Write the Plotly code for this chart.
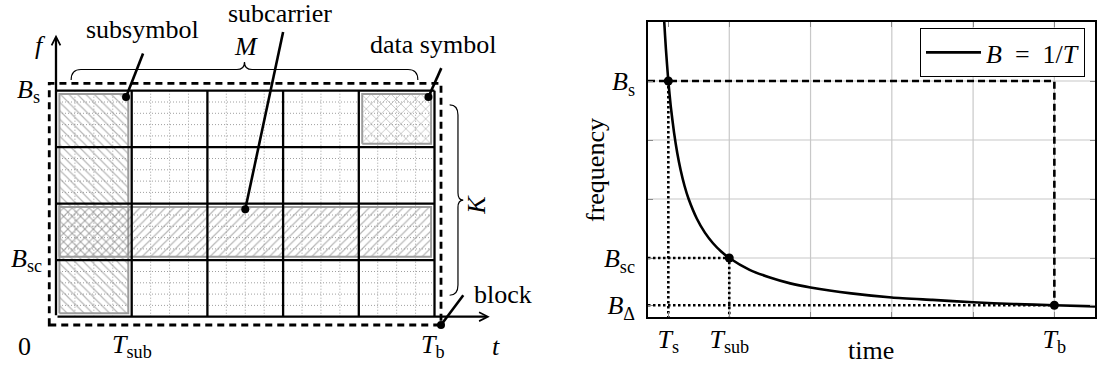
import plotly.graph_objects as go

# ---------------- data ----------------
M = 5                # subsymbols per block
K = 4                # subcarriers per block
T_S = 0.25           # symbol duration
T_SUB = 1.0          # subsymbol duration
T_B = 5.0            # block duration
B_S = 4.0            # symbol bandwidth
B_SC = 1.0           # subcarrier bandwidth
B_DELTA = 0.2        # block frequency resolution

SUBSYMBOL_COL = 0          # highlighted subsymbol (column)
SUBCARRIER_ROW = 1         # highlighted subcarrier (row, counted from bottom)
DATA_SYMBOL_CELL = (4, 3)  # (column, row)

# B = 1/T curve
CURVE_T = [0.18, 0.2, 0.22, 0.25, 0.28, 0.32, 0.36, 0.4, 0.45, 0.5, 0.6, 0.7, 0.8, 0.9, 1.0,
           1.25, 1.5, 1.75, 2.0, 2.5, 3.0, 3.5, 4.0, 4.5, 5.0, 5.5]
CURVE_B = [5.56, 5.0, 4.55, 4.0, 3.57, 3.13, 2.78, 2.5, 2.22, 2.0, 1.67, 1.43, 1.25, 1.11, 1.0,
           0.8, 0.67, 0.57, 0.5, 0.4, 0.33, 0.29, 0.25, 0.22, 0.2, 0.18]

X_TICK_VALS = [T_S, T_SUB, T_B]
X_TICK_TEXT = ["<i>T</i><sub>s</sub>", "<i>T</i><sub>sub</sub>", "<i>T</i><sub>b</sub>"]
Y_TICK_VALS = [B_DELTA, B_SC, B_S]
Y_TICK_TEXT = ["<i>B</i><sub>Δ</sub>", "<i>B</i><sub>sc</sub>", "<i>B</i><sub>s</sub>"]
GRID_T = [1, 2, 3, 4, 5]
GRID_B = [1, 2, 3, 4]

# ---------------- style / layout ----------------
FONT = "Liberation Serif, Times New Roman, serif"
FS = 26
W, H = 1097, 369
LX0, LXS = 56.0, 75.7      # left panel: pixel of t=0, pixels per unit
LY0, LYS = 316.7, 56.5     # left panel: pixel of f=0, pixels per unit
LEFT_W = 548.5
HATCH_FG = "#707070"
BORDER_GRAY = "#9c9c9c"
INX, INY = 0.045, 0.06

fig = go.Figure()


def rect(x0, x1, y0, y1):
    return [x0, x1, x1, x0, x0], [y0, y0, y1, y1, y0]


def hatch(x0, x1, y0, y1, shape, size=6.0):
    xs, ys = rect(x0 + INX, x1 - INX, y0 + INY, y1 - INY)
    fig.add_trace(go.Scatter(
        x=xs, y=ys, mode="lines", fill="toself", fillcolor="rgba(0,0,0,0)",
        fillpattern=dict(shape=shape, fgcolor=HATCH_FG, bgcolor="rgba(0,0,0,0)",
                         size=size, solidity=0.2),
        line=dict(color=BORDER_GRAY, width=2), hoverinfo="skip",
        showlegend=False, xaxis="x", yaxis="y"))


# ---- left panel: hatched regions ----
hatch(SUBSYMBOL_COL * T_SUB, (SUBSYMBOL_COL + 1) * T_SUB, 0, K * B_SC, "\\")
hatch(0, M * T_SUB, SUBCARRIER_ROW * B_SC, (SUBCARRIER_ROW + 1) * B_SC, "/")
dc, dr = DATA_SYMBOL_CELL
hatch(dc * T_SUB, (dc + 1) * T_SUB, dr * B_SC, (dr + 1) * B_SC, "x", size=7)

# dotted sub-grid
n_sub_t = int(round(T_SUB / T_S))
n_sub_b = int(round(B_SC / B_DELTA))
sx, sy = [], []
for k in range(1, M * n_sub_t):
    if k % n_sub_t:
        sx += [k * T_S, k * T_S, None]
        sy += [0, K * B_SC, None]
for j in range(1, K * n_sub_b):
    if j % n_sub_b:
        sx += [0, M * T_SUB, None]
        sy += [j * B_DELTA, j * B_DELTA, None]
fig.add_trace(go.Scatter(x=sx, y=sy, mode="lines",
                         line=dict(color="#a0a0a0", width=1, dash="1px,2px"),
                         hoverinfo="skip", showlegend=False, xaxis="x", yaxis="y"))

# solid grid
gx, gy = [], []
for c in range(1, M + 1):
    gx += [c * T_SUB, c * T_SUB, None]
    gy += [0, K * B_SC, None]
for r in range(1, K + 1):
    gx += [0, M * T_SUB, None]
    gy += [r * B_SC, r * B_SC, None]
fig.add_trace(go.Scatter(x=gx, y=gy, mode="lines", line=dict(color="black", width=2.3),
                         hoverinfo="skip", showlegend=False, xaxis="x", yaxis="y"))

shapes = []
annotations = []

# dashed block rectangle
shapes.append(dict(type="rect", xref="x", yref="y", x0=-0.089, x1=M * T_SUB + 0.086,
                   y0=-0.147, y1=K * B_SC + 0.13,
                   line=dict(color="black", width=2.8, dash="7px,5px")))


def hbrace(x0, x1, y_tip, y_body, y_cusp, rx, rcx):
    xm = (x0 + x1) / 2
    return (f"M {x0},{y_tip} Q {x0},{y_body} {x0 + rx},{y_body} L {xm - rcx},{y_body} "
            f"Q {xm},{y_body} {xm},{y_cusp} Q {xm},{y_body} {xm + rcx},{y_body} "
            f"L {x1 - rx},{y_body} Q {x1},{y_body} {x1},{y_tip}")


def vbrace(y0, y1, x_tip, x_body, x_cusp, ry, rcy):
    ym = (y0 + y1) / 2
    return (f"M {x_tip},{y1} Q {x_body},{y1} {x_body},{y1 - ry} L {x_body},{ym + rcy} "
            f"Q {x_body},{ym} {x_cusp},{ym} Q {x_body},{ym} {x_body},{ym - rcy} "
            f"L {x_body},{y0 + ry} Q {x_body},{y0} {x_tip},{y0}")


shapes.append(dict(type="path", xref="x", yref="y",
                   path=hbrace(0.2, M * T_SUB - 0.22, 4.19, 4.375, 4.51, 0.13, 0.1),
                   line=dict(color="black", width=1.2)))
shapes.append(dict(type="path", xref="x", yref="y",
                   path=vbrace(0.38, 3.75, 5.2, 5.31, 5.38, 0.18, 0.13),
                   line=dict(color="black", width=1.2)))

# axes arrows (left panel)
for (hx, hy) in [(0, 4.99), (5.73, 0)]:
    annotations.append(dict(x=hx, y=hy, ax=0, ay=0, xref="x", yref="y", axref="x", ayref="y",
                            showarrow=True, arrowhead=5, arrowsize=0.75, arrowwidth=2.3,
                            arrowcolor="black", text=""))

# pointer lines and dots
POINTERS = [
    ((SUBSYMBOL_COL + 1) * T_SUB - 0.075, K * B_SC - 0.11, 1.15, 4.66),
    (2.5 * T_SUB, (SUBCARRIER_ROW + 1) * B_SC - 0.1, 3.0, 5.04),
    ((dc + 1) * T_SUB - 0.08, (dr + 1) * B_SC - 0.11, 5.09, 4.40),
    (M * T_SUB + 0.086, -0.147, 5.38, 0.38),
]
px_, py_ = [], []
for (dx, dy, ex, ey) in POINTERS:
    px_ += [dx, ex, None]
    py_ += [dy, ey, None]
fig.add_trace(go.Scatter(x=px_, y=py_, mode="lines", line=dict(color="black", width=2.6),
                         hoverinfo="skip", showlegend=False, xaxis="x", yaxis="y"))
fig.add_trace(go.Scatter(x=[p[0] for p in POINTERS], y=[p[1] for p in POINTERS], mode="markers",
                         marker=dict(color="black", size=8), hoverinfo="skip",
                         showlegend=False, xaxis="x", yaxis="y", cliponaxis=False))

tfont = dict(family=FONT, size=FS, color="black")


def ltext(x, y, s, xanchor="center", angle=0):
    annotations.append(dict(x=x, y=y, xref="x", yref="y", text=s, showarrow=False,
                            xanchor=xanchor, yanchor="middle", font=tfont, textangle=angle))


ltext(1.14, 5.08, "subsymbol")
ltext(2.96, 5.36, "subcarrier")
ltext(4.98, 4.82, "data symbol")
ltext(5.5, 0.40, "block", xanchor="left")
ltext(2.51, 4.78, "<i>M</i>")
ltext(5.56, 1.98, "<i>K</i>", angle=-90)
ltext(-0.21, 4.80, "<i>f</i>")
ltext(5.81, -0.52, "<i>t</i>")
ltext(-0.41, -0.52, "0")
ltext(T_SUB, -0.52, X_TICK_TEXT[1])
ltext(T_B - 0.02, -0.52, X_TICK_TEXT[2])
ltext(-0.19, B_S, Y_TICK_TEXT[2], xanchor="right")
ltext(-0.16, B_SC, Y_TICK_TEXT[1], xanchor="right")

# ---------------- right panel ----------------
for g in GRID_T:
    shapes.append(dict(type="line", xref="x2", yref="y2", x0=g, x1=g, y0=0, y1=5,
                       line=dict(color="#c8c8c8", width=1.2), layer="below"))
for g in GRID_B:
    shapes.append(dict(type="line", xref="x2", yref="y2", x0=0, x1=5.5, y0=g, y1=g,
                       line=dict(color="#c8c8c8", width=1.2), layer="below"))

fig.add_trace(go.Scatter(x=[0, T_B, T_B], y=[B_S, B_S, B_DELTA], mode="lines",
                         line=dict(color="black", width=2.6, dash="7px,4px"),
                         hoverinfo="skip", showlegend=False, xaxis="x2", yaxis="y2"))
fig.add_trace(go.Scatter(
    x=[T_S, T_S, None, 0, T_SUB, T_SUB, None, 0, T_B],
    y=[B_S, 0, None, B_SC, B_SC, 0, None, B_DELTA, B_DELTA],
    mode="lines", line=dict(color="black", width=2.6, dash="2.5px,2.5px"),
    hoverinfo="skip", showlegend=False, xaxis="x2", yaxis="y2"))
fig.add_trace(go.Scatter(x=CURVE_T, y=CURVE_B, mode="lines",
                         line=dict(color="black", width=2.6, shape="spline", smoothing=0.6),
                         name="<i>B</i>\u2002=\u20021/<i>T</i>", xaxis="x2", yaxis="y2"))
fig.add_trace(go.Scatter(x=[T_S, T_SUB, T_B], y=[B_S, B_SC, B_DELTA], mode="markers",
                         marker=dict(color="black", size=9), showlegend=False,
                         hoverinfo="skip", xaxis="x2", yaxis="y2", cliponaxis=False))

annotations.append(dict(x=595 / W, y=1 - 170 / H, xref="paper", yref="paper", text="frequency",
                        textangle=-90, showarrow=False, font=tfont,
                        xanchor="center", yanchor="middle"))
annotations.append(dict(x=871 / W, y=1 - 350 / H, xref="paper", yref="paper", text="time",
                        showarrow=False, font=tfont, xanchor="center", yanchor="middle"))

axis_common = dict(showline=True, linecolor="black", linewidth=1.6, mirror="allticks",
                   ticks="inside", ticklen=5, tickwidth=1.2, tickcolor="#8a8a8a",
                   showgrid=False, zeroline=False, tickfont=tfont, automargin=False)

fig.update_layout(
    width=W, height=H, margin=dict(l=0, r=0, t=0, b=0, autoexpand=False),
    paper_bgcolor="white", plot_bgcolor="white",
    xaxis=dict(domain=[0, LEFT_W / W], range=[-LX0 / LXS, (LEFT_W - LX0) / LXS],
               visible=False, anchor="y"),
    yaxis=dict(domain=[0, 1], range=[(LY0 - H) / LYS, LY0 / LYS], visible=False, anchor="x"),
    xaxis2=dict(domain=[648 / W, 1095 / W], range=[0, 5.5], anchor="y2",
                tickmode="array", tickvals=X_TICK_VALS, ticktext=X_TICK_TEXT,
                minor=dict(tickmode="array", tickvals=[2, 3, 4], ticks="inside", ticklen=5,
                           tickcolor="#8a8a8a", tickwidth=1.2),
                ticklabelstandoff=-2, **axis_common),
    yaxis2=dict(domain=[1 - 317 / H, 1 - 22 / H], range=[0, 5], anchor="x2",
                tickmode="array", tickvals=Y_TICK_VALS, ticktext=Y_TICK_TEXT,
                minor=dict(tickmode="array", tickvals=[2, 3], ticks="inside", ticklen=5,
                           tickcolor="#8a8a8a", tickwidth=1.2),
                ticklabelstandoff=6, **axis_common),
    legend=dict(x=1085 / W, xanchor="right", y=1 - 28 / H, yanchor="top", itemwidth=55,
                bordercolor="black", borderwidth=1, bgcolor="white", font=tfont),
    shapes=shapes, annotations=annotations, showlegend=True,
)

fig.write_html("out.html", config={"displayModeBar": False},
               post_script="document.body.style.margin='0px';")
